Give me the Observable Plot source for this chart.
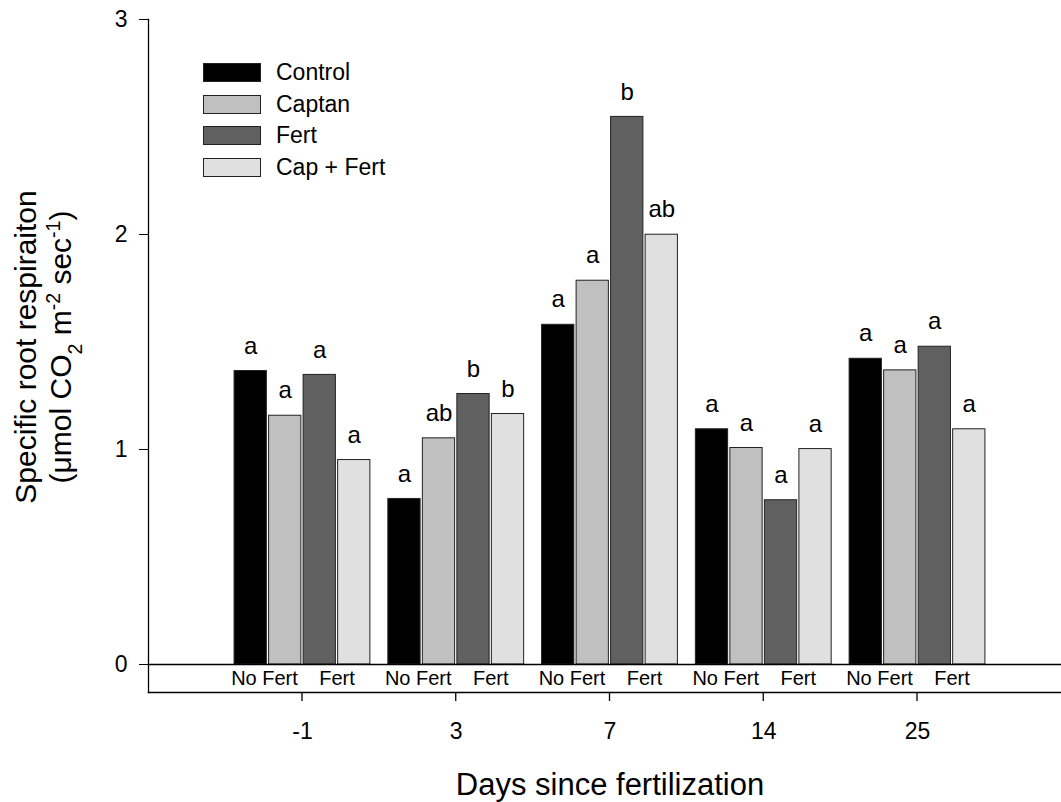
<!DOCTYPE html>
<html>
<head>
<meta charset="utf-8">
<script src="https://cdn.jsdelivr.net/npm/d3@7"></script>
<script src="https://cdn.jsdelivr.net/npm/@observablehq/plot@0.6"></script>
<style>
  body { margin: 0; background: #fff; }
  #wrap { position: relative; width: 1061px; height: 802px; font-family: "Liberation Sans", Arial, sans-serif; }
  #legend { position: absolute; left: 203px; top: 56.6px; }
  #legend .row { display: flex; align-items: center; height: 31.7px; }
  #legend .sw { width: 58px; height: 19px; box-sizing: border-box; border: 1px solid #222; }
  #legend .lb { margin-left: 15px; font-size: 23px; line-height: 1; color: #000; }
</style>
</head>
<body>
<div id="wrap"></div>
<script>
// ---- data ----
const days = ["-1", "3", "7", "14", "25"];
const treatments = ["Control", "Captan", "Fert", "Cap + Fert"];
const colors = ["#000000", "#c0c0c0", "#606060", "#e0e0e0"];

const control = [1.365, 0.770, 1.580, 1.094, 1.422];
const captan  = [1.157, 1.052, 1.785, 1.007, 1.368];
const fert    = [1.347, 1.258, 2.547, 0.764, 1.478];
const capFert = [0.951, 1.165, 1.999, 1.002, 1.094];

const letControl = ["a", "a", "a", "a", "a"];
const letCaptan  = ["a", "ab", "a", "a", "a"];
const letFert    = ["a", "b", "b", "a", "a"];
const letCapFert = ["a", "b", "ab", "a", "a"];

const noFertLabel = "No Fert";
const fertLabel = "Fert";

const yTicks = [0, 1, 2, 3];
const yDomain = [0, 3];
const yTitleLine1 = "Specific root respiraiton";
const yTitleLine2Parts = [["(\u03bcmol CO", ""], ["2", "sub"], [" m", ""], ["-2", "super"], [" sec", ""], ["-1", "super"], [")", ""]];
const xTitle = "Days since fertilization";

// ---- tables ----
const series = [control, captan, fert, capFert];
const letters = [letControl, letCaptan, letFert, letCapFert];
const data = days.flatMap((d, i) => treatments.map((t, j) => ({
  day: d, treatment: t, value: series[j][i], letter: letters[j][i]
})));
const noFertRows = days.map(d => ({day: d, label: noFertLabel, at: treatments[1]}));
const fertRows = days.map(d => ({day: d, label: fertLabel, at: treatments[3]}));
const yTitleLine2 = yTitleLine2Parts.map(p => p[0]).join("");
const yTitleText = yTitleLine1 + "\n" + yTitleLine2;

// ---- layout ----
const plotLeft = 148;           // y-axis line
const plotRight = 1060;         // right end of the horizontal axis lines
const fxRange = [225.1, 993.9]; // span of the five day groups
const lowerAxisGap = 28;        // zero line -> lower category axis
const tickLen = 9;
const extL = -(fxRange[0] - plotLeft);
const extR = -(plotRight - fxRange[1]);
const halfStep = 17.25;

const chart = Plot.plot({
  width: 1061,
  height: 802,
  marginLeft: plotLeft,
  marginRight: 1,
  marginTop: 19,
  marginBottom: 138,
  facet: {marginTop: 0, marginRight: 0, marginBottom: 0, marginLeft: 0},
  style: {fontFamily: '"Liberation Sans", Arial, sans-serif', fontSize: "20px", background: "#fff", color: "#000", overflow: "visible"},
  fx: {domain: days, range: fxRange, paddingInner: 0, paddingOuter: 0, round: false, axis: null, label: null},
  x: {domain: treatments, paddingInner: 0.065, paddingOuter: 0.26, round: false, axis: null, label: null},
  y: {domain: yDomain, axis: null, label: null},
  color: {domain: treatments, range: colors},
  marks: [
    Plot.barY(data, {fx: "day", x: "treatment", y: "value", fill: "treatment", stroke: "#222", strokeWidth: 1}),
    Plot.text(data, {fx: "day", x: "treatment", y: "value", text: "letter", dy: -25, fontSize: 24, fill: "#000"}),
    Plot.text(noFertRows, {fx: "day", x: "at", y: () => 0, text: "label", lineAnchor: "top",
      dy: 6, dx: -halfStep - 3.5, fontSize: 20, fill: "#000"}),
    Plot.text(fertRows, {fx: "day", x: "at", y: () => 0, text: "label", lineAnchor: "top",
      dy: 6, dx: -halfStep, fontSize: 20, fill: "#000"}),
    // zero line
    Plot.frame({anchor: "bottom", facet: "super", insetLeft: extL, insetRight: extR, stroke: "#000", strokeWidth: 1.3}),
    // y-axis line, running down to the lower axis
    Plot.frame({anchor: "left", facet: "super", insetLeft: extL, insetBottom: -lowerAxisGap, stroke: "#000", strokeWidth: 1.3}),
    // lower category axis line
    Plot.frame({anchor: "bottom", facet: "super", insetLeft: extL, insetRight: extR, insetBottom: -lowerAxisGap, stroke: "#000", strokeWidth: 1.3}),
    Plot.axisY(yTicks, {anchor: "left", tickSize: 9, tickPadding: 12, fontSize: 23, label: null, stroke: "#000",
      tickFormat: d3.format("d"), dx: extL}),
    Plot.axisFx({anchor: "bottom", tickSize: 0, tickPadding: 30, fontSize: 23, label: null, dy: lowerAxisGap}),
    Plot.text([xTitle], {facet: "super", frameAnchor: "bottom", lineAnchor: "top", dy: 108, fontSize: 31, fill: "#000"}),
    Plot.text([yTitleText], {facet: "super", frameAnchor: "left", rotate: -90, textAnchor: "middle", lineAnchor: "middle",
      lineHeight: 1.167, dx: extL - 106.7, dy: 5, fontSize: 30, fill: "#000", ariaLabel: "y-title"})
  ]
});

const ns = "http://www.w3.org/2000/svg";

// category ticks under the lower axis, placed with Plot's own fx and y scales
(function addGroupTicks() {
  let fxS = null, yS = null;
  try { fxS = chart.scale("fx"); yS = chart.scale("y"); } catch (e) {}
  const bw = fxS && fxS.bandwidth != null ? fxS.bandwidth : (fxRange[1] - fxRange[0]) / days.length;
  const pos = (d, i) => fxS && fxS.apply ? fxS.apply(d) + bw / 2 : fxRange[0] + bw * (i + 0.5);
  const y0 = (yS && yS.apply ? yS.apply(0) : 664) + lowerAxisGap;
  const g = document.createElementNS(ns, "g");
  g.setAttribute("aria-label", "fx-axis tick");
  g.setAttribute("stroke", "#000");
  g.setAttribute("stroke-width", "1.3");
  days.forEach((d, i) => {
    const x = pos(d, i);
    const line = document.createElementNS(ns, "line");
    line.setAttribute("x1", x); line.setAttribute("x2", x);
    line.setAttribute("y1", y0); line.setAttribute("y2", y0 + tickLen);
    g.appendChild(line);
  });
  chart.appendChild(g);
})();

// rich text (subscript / superscript) for the y-axis title's second line
function enrich(node) {
  node.textContent = "";
  for (const [txt, kind] of yTitleLine2Parts) {
    if (!kind) { node.appendChild(document.createTextNode(txt)); continue; }
    const s = document.createElementNS(ns, "tspan");
    s.setAttribute("baseline-shift", kind);
    s.setAttribute("font-size", "0.65em");
    s.textContent = txt;
    node.appendChild(s);
  }
}
for (const el of chart.querySelectorAll("tspan, text")) {
  if (el.children.length === 0 && el.textContent === yTitleLine2) { enrich(el); break; }
}

const wrap = document.getElementById("wrap");
wrap.appendChild(chart);

// legend
const legend = document.createElement("div");
legend.id = "legend";
treatments.forEach((t, i) => {
  const row = document.createElement("div");
  row.className = "row";
  const sw = document.createElement("div");
  sw.className = "sw";
  sw.style.background = colors[i];
  const lb = document.createElement("span");
  lb.className = "lb";
  lb.textContent = t;
  row.appendChild(sw);
  row.appendChild(lb);
  legend.appendChild(row);
});
wrap.appendChild(legend);
</script>
</body>
</html>
